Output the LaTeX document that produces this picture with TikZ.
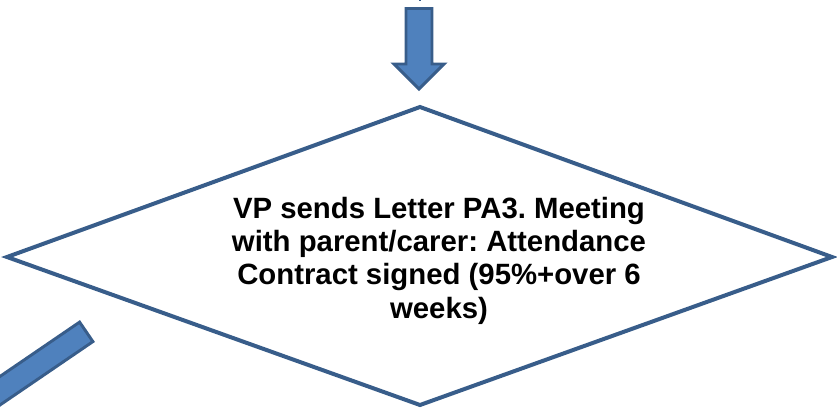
\documentclass[tikz,border=0pt]{standalone}
\usepackage{fontspec}
\setmainfont{Liberation Sans}
\definecolor{arrowfill}{HTML}{4F81BD}
\definecolor{arrowline}{HTML}{385D8A}

\begin{document}
\frenchspacing
\begin{tikzpicture}[x=0.75pt, y=-0.75pt, line join=miter,
    blockarrow/.style={fill=arrowfill, draw=arrowline, line width=2.2pt},
    decision/.style={draw=arrowline, line width=3pt},
    every node/.style={font=\bfseries\fontsize{22}{25}\selectfont}]
\useasboundingbox (0,0) rectangle (837,410);
\clip (0,0) rectangle (837,410);
% end of the shape above
\draw[arrowline, line width=2pt] (420,-3) -- (420,1.5);
% arrow into the decision
\draw[blockarrow] (406,8.5) -- (432,8.5) -- (432,64) -- (444,64) -- (419,89)
  -- (394,64) -- (406,64) -- cycle;
% decision
\coordinate (top) at (420,107);
\coordinate (right) at (832,257);
\coordinate (bottom) at (420,405);
\coordinate (left) at (7,257);
\draw[decision] (top) -- (right) -- (bottom) -- (left) -- cycle;
\node[align=center, inner sep=0pt] (meeting) at (439,260.5)
  {VP sends Letter PA3. Meeting\\with parent/carer: Attendance\\Contract signed (95\%+over 6\\weeks)};
% arrow out to the left
\draw[blockarrow] (79.6,322.1) -- (92.9,341.6) -- (-31.1,426.2) -- (-24.3,436.1)
  -- (-58.4,430.6) -- (-51.2,396.8) -- (-44.4,406.7) -- cycle;
\end{tikzpicture}
\end{document}
